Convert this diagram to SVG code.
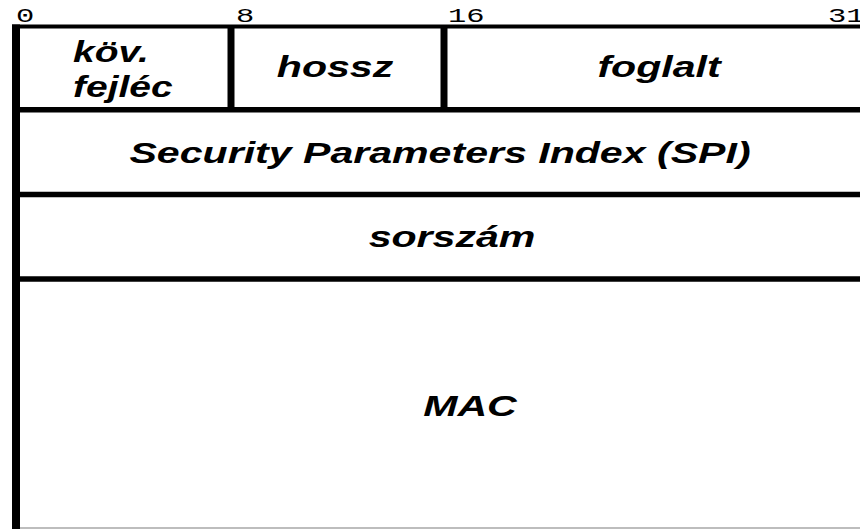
<svg xmlns="http://www.w3.org/2000/svg" width="860" height="529" viewBox="0 0 860 529">
  <style>
    .f { font-family: "Liberation Sans", Arial, sans-serif; font-weight: bold; font-style: italic; font-size: 30px; fill: #000; }
    .b { font-family: "Liberation Mono", "Courier New", monospace; font-size: 21px; fill: #000; }
    .ln { stroke: #000; fill: none; }
  </style>
  <rect x="0" y="0" width="860" height="529" fill="#fff"/>

  <g id="bit-labels">
    <text class="b" transform="translate(16,22) scale(1.45,1)">0</text>
    <text class="b" transform="translate(236,22) scale(1.45,1)">8</text>
    <text class="b" transform="translate(448,22) scale(1.45,1)">16</text>
    <text class="b" transform="translate(828,22) scale(1.45,1)">31</text>
  </g>

  <g id="node-kov-fejlec">
    <text class="f" transform="translate(73,62) scale(1.3,1)">köv.</text>
    <text class="f" transform="translate(73,97) scale(1.3,1)">fejléc</text>
  </g>
  <g id="node-hossz">
    <text class="f" text-anchor="middle" transform="translate(335,77) scale(1.37,1)">hossz</text>
  </g>
  <g id="node-foglalt">
    <text class="f" text-anchor="middle" transform="translate(659,77) scale(1.37,1)">foglalt</text>
  </g>
  <g id="node-spi">
    <text class="f" text-anchor="middle" transform="translate(440,163) scale(1.37,1)">Security Parameters Index (SPI)</text>
  </g>
  <g id="node-sorszam">
    <text class="f" text-anchor="middle" transform="translate(452,247) scale(1.37,1)">sorszám</text>
  </g>
  <g id="node-mac">
    <text class="f" text-anchor="middle" transform="translate(470,416) scale(1.37,1)">MAC</text>
  </g>

  <g id="connectors">
    <line class="ln" x1="12" y1="26.5" x2="860" y2="26.5" stroke-width="4"/>
    <line class="ln" x1="16" y1="24.5" x2="16" y2="529" stroke-width="8"/>
    <line class="ln" x1="231" y1="28" x2="231" y2="108" stroke-width="7"/>
    <line class="ln" x1="444" y1="28" x2="444" y2="108" stroke-width="7"/>
    <line class="ln" x1="12" y1="109.8" x2="860" y2="109.8" stroke-width="5.5"/>
    <line class="ln" x1="12" y1="194.5" x2="860" y2="194.5" stroke-width="5.5"/>
    <line class="ln" x1="12" y1="279" x2="860" y2="279" stroke-width="5.5"/>
    <line x1="20" y1="528" x2="860" y2="528" stroke="#bdbdbd" stroke-width="2"/>
  </g>
</svg>
